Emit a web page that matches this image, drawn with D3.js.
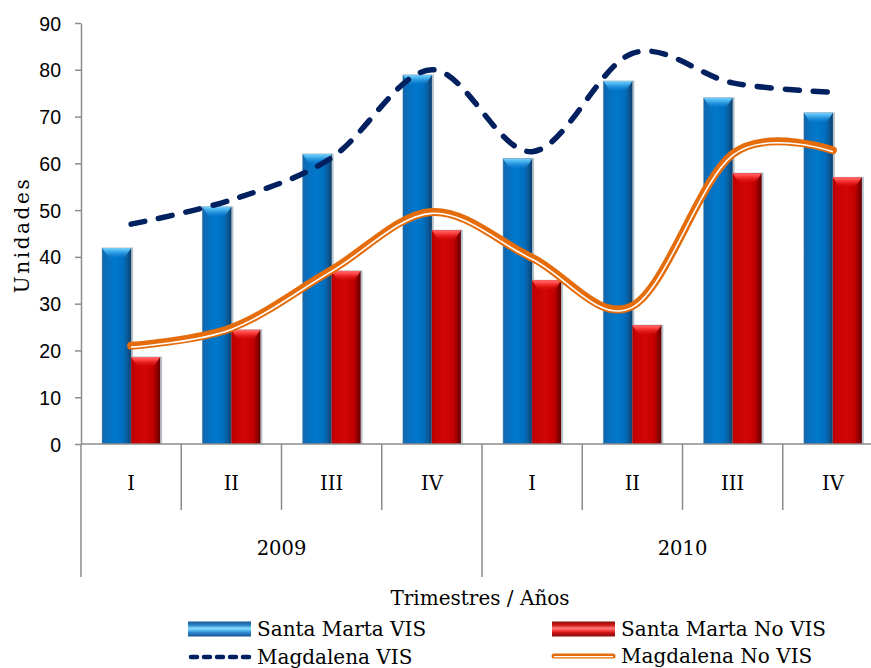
<!DOCTYPE html>
<html>
<head>
<meta charset="utf-8">
<script src="https://cdn.jsdelivr.net/npm/d3@7"></script>
<style>
  body { margin: 0; background: #fff; }
  svg { display: block; font-family: "DejaVu Serif", serif; }
  .axis-line { stroke: #8c8c8c; stroke-width: 1.5; fill: none; }
  .tick-label { font-size: 19.5px; fill: #000; }
</style>
</head>
<body>
<svg id="chart" width="871" height="668"></svg>
<script>
// ---- data ----
const quarters = ["I", "II", "III", "IV", "I", "II", "III", "IV"];
const years = ["2009", "2010"];
const yTicks = [0, 10, 20, 30, 40, 50, 60, 70, 80, 90];

const santaMartaVIS   = [41.9, 50.7, 62.0, 78.9, 61.0, 77.6, 74.0, 70.8];
const santaMartaNoVIS = [18.6, 24.4, 37.0, 45.7, 35.0, 25.4, 57.9, 57.0];
const magdalenaVIS    = [47.0, 52.2, 61.2, 80.0, 62.5, 83.5, 77.2, 75.2];
const magdalenaNoVIS  = [21.0, 24.8, 37.2, 49.6, 39.8, 29.5, 62.0, 62.8];

const barSeries = ["Santa Marta VIS", "Santa Marta No VIS"];

// ---- layout ----
const svg = d3.select('#chart');
const plotLeft = 81, plotRight = 883, plotTop = 23, plotBottom = 444;

const x = d3.scaleBand().domain(d3.range(quarters.length)).range([plotLeft, plotRight]).padding(0);
const x1 = d3.scaleBand().domain(barSeries).range([0, x.bandwidth()]).paddingInner(0).paddingOuter(0.73);
const y = d3.scaleLinear().domain([0, 90]).range([plotBottom, plotTop]);

// ---- gradients ----
const defs = svg.append('defs');
function hGrad(id, stops) {
    const g = defs.append('linearGradient').attr('id', id)
        .attr('x1', 0).attr('x2', 1).attr('y1', 0).attr('y2', 0);
    stops.forEach(s => g.append('stop').attr('offset', s[0]).attr('stop-color', s[1]));
}
function vGrad(id, stops) {
    const g = defs.append('linearGradient').attr('id', id)
        .attr('x1', 0).attr('x2', 0).attr('y1', 0).attr('y2', 1);
    stops.forEach(s => g.append('stop').attr('offset', s[0]).attr('stop-color', s[1])
        .attr('stop-opacity', s[2] === undefined ? 1 : s[2]));
}
hGrad('blueBody', [[0, '#1768a8'], [0.1, '#0a6cb8'], [0.45, '#0078cc'], [0.72, '#006fbf'], [0.86, '#0b5c9c'], [1, '#0b3f6c']]);
hGrad('redBody', [[0, '#b20000'], [0.1, '#c60000'], [0.45, '#d20606'], [0.75, '#c40000'], [0.88, '#940000'], [1, '#640000']]);
vGrad('blueTop', [[0, '#79cff8'], [0.3, '#45b2f0'], [1, '#1f8ee0', 0]]);
vGrad('redTop', [[0, '#ff7070'], [0.3, '#ff4040'], [1, '#e01010', 0]]);
vGrad('blueSwatch', [[0, '#1b5690'], [0.25, '#2a84cc'], [0.45, '#8fdcfc'], [0.58, '#5cc0f4'], [0.75, '#2a84cc'], [1, '#1b5690']]);
vGrad('redSwatch', [[0, '#8a0c0c'], [0.25, '#d01818'], [0.45, '#ff8080'], [0.58, '#ff4848'], [0.75, '#c81414'], [1, '#8a0c0c']]);

const fills = {
    "Santa Marta VIS": { body: 'url(#blueBody)', top: 'url(#blueTop)', swatch: 'url(#blueSwatch)' },
    "Santa Marta No VIS": { body: 'url(#redBody)', top: 'url(#redTop)', swatch: 'url(#redSwatch)' }
};

// ---- bars ----
const barData = [];
quarters.forEach((q, i) => {
    barData.push({ i: i, s: barSeries[0], v: santaMartaVIS[i] });
    barData.push({ i: i, s: barSeries[1], v: santaMartaNoVIS[i] });
});

const bars = svg.append('g').selectAll('g.bar')
    .data(barData)
    .enter().append('g')
    .attr('class', 'bar')
    .attr('transform', d => 'translate(' + (x(d.i) + x1(d.s)) + ',0)');

const bw = x1.bandwidth();

// soft shadow
bars.append('rect')
    .attr('x', -0.5).attr('width', bw + 2.5)
    .attr('y', d => y(d.v) - 0.5).attr('height', d => plotBottom - y(d.v) + 0.5)
    .attr('fill', '#7d8f9f').attr('opacity', 0.55);

bars.append('rect')
    .attr('x', 0).attr('width', bw)
    .attr('y', d => y(d.v)).attr('height', d => plotBottom - y(d.v))
    .attr('fill', d => fills[d.s].body);

// bevel on top of each bar
bars.append('path')
    .attr('d', d => {
        const t = y(d.v);
        return 'M0,' + t + 'L' + bw + ',' + t + 'L' + (bw * 0.78) + ',' + (t + 10) + 'L' + (bw * 0.22) + ',' + (t + 10) + 'Z';
    })
    .attr('fill', d => fills[d.s].top);

// ---- axes ----
const yAxis = svg.append('g')
    .attr('transform', 'translate(' + plotLeft + ',0)')
    .call(d3.axisLeft(y).tickValues(yTicks).tickSize(6).tickSizeOuter(0).tickPadding(14));
yAxis.select('.domain').attr('class', 'axis-line');
yAxis.selectAll('.tick line').attr('stroke', '#8c8c8c').attr('stroke-width', 1.5);
yAxis.selectAll('.tick text').attr('class', 'tick-label').attr('font-family', null).attr('font-size', null)
    .attr('dy', '0.36em');

// category axis line
svg.append('line').attr('class', 'axis-line')
    .attr('x1', plotLeft).attr('x2', plotRight).attr('y1', plotBottom).attr('y2', plotBottom);

// dividers between quarters and years
svg.append('g').selectAll('line')
    .data(d3.range(quarters.length + 1))
    .enter().append('line')
    .attr('class', 'axis-line')
    .attr('x1', i => plotLeft + i * x.step()).attr('x2', i => plotLeft + i * x.step())
    .attr('y1', plotBottom)
    .attr('y2', i => i % 4 === 0 ? 577 : 510);

svg.append('g').selectAll('text')
    .data(quarters)
    .enter().append('text')
    .attr('class', 'tick-label')
    .attr('x', (d, i) => x(i) + x.bandwidth() / 2)
    .attr('y', 490)
    .attr('text-anchor', 'middle')
    .text(d => d);

svg.append('g').selectAll('text')
    .data(years)
    .enter().append('text')
    .attr('class', 'tick-label')
    .attr('x', (d, i) => plotLeft + (i * 4 + 2) * x.step())
    .attr('y', 555)
    .attr('text-anchor', 'middle')
    .text(d => d);

// axis titles
svg.append('text')
    .attr('transform', 'translate(29,235) rotate(-90)')
    .attr('text-anchor', 'middle')
    .attr('font-size', '20px')
    .attr('letter-spacing', '2.6px')
    .text('Unidades');

svg.append('text')
    .attr('x', 480).attr('y', 605)
    .attr('text-anchor', 'middle')
    .attr('font-size', '20px')
    .text('Trimestres / Años');

// ---- lines ----
const line = d3.line()
    .x((d, i) => x(i) + x.bandwidth() / 2)
    .y(d => y(d))
    .curve(d3.curveCatmullRom.alpha(0));

svg.append('path')
    .attr('d', line(magdalenaVIS))
    .attr('fill', 'none')
    .attr('stroke', '#002060')
    .attr('stroke-width', 5.5)
    .attr('stroke-linecap', 'round')
    .attr('stroke-dasharray', '14,14');

svg.append('path')
    .attr('d', line(magdalenaNoVIS))
    .attr('fill', 'none')
    .attr('stroke', '#e46c0a')
    .attr('stroke-width', 8)
    .attr('stroke-linecap', 'round');
svg.append('path')
    .attr('d', line(magdalenaNoVIS))
    .attr('transform', 'translate(0,1.4)')
    .attr('fill', 'none')
    .attr('stroke', '#fff')
    .attr('stroke-width', 1.6);

// ---- legend ----
const legendItems = [
    { name: "Santa Marta VIS", kind: 'bar', x: 188, y: 629 },
    { name: "Santa Marta No VIS", kind: 'bar', x: 552, y: 629 },
    { name: "Magdalena VIS", kind: 'dash', x: 188, y: 657 },
    { name: "Magdalena No VIS", kind: 'double', x: 552, y: 656 }
];

const legend = svg.append('g').selectAll('g')
    .data(legendItems)
    .enter().append('g')
    .attr('transform', d => 'translate(' + d.x + ',' + d.y + ')');

legend.filter(d => d.kind === 'bar').append('rect')
    .attr('x', 0).attr('y', -7.5).attr('width', 63).attr('height', 15)
    .attr('fill', d => fills[d.name].swatch);

legend.filter(d => d.kind === 'dash').append('line')
    .attr('x1', 3).attr('x2', 61).attr('y1', 0).attr('y2', 0)
    .attr('stroke', '#002060').attr('stroke-width', 4.5)
    .attr('stroke-linecap', 'round').attr('stroke-dasharray', '6,7');

const dbl = legend.filter(d => d.kind === 'double');
dbl.append('line')
    .attr('x1', 2).attr('x2', 61).attr('y1', 0).attr('y2', 0)
    .attr('stroke', '#e46c0a').attr('stroke-width', 5).attr('stroke-linecap', 'round');
dbl.append('line')
    .attr('x1', 2).attr('x2', 61).attr('y1', 0.6).attr('y2', 0.6)
    .attr('stroke', '#fff').attr('stroke-width', 1.2);

legend.append('text')
    .attr('x', 69).attr('y', 7)
    .attr('font-size', '20px')
    .text(d => d.name);
</script>
</body>
</html>
